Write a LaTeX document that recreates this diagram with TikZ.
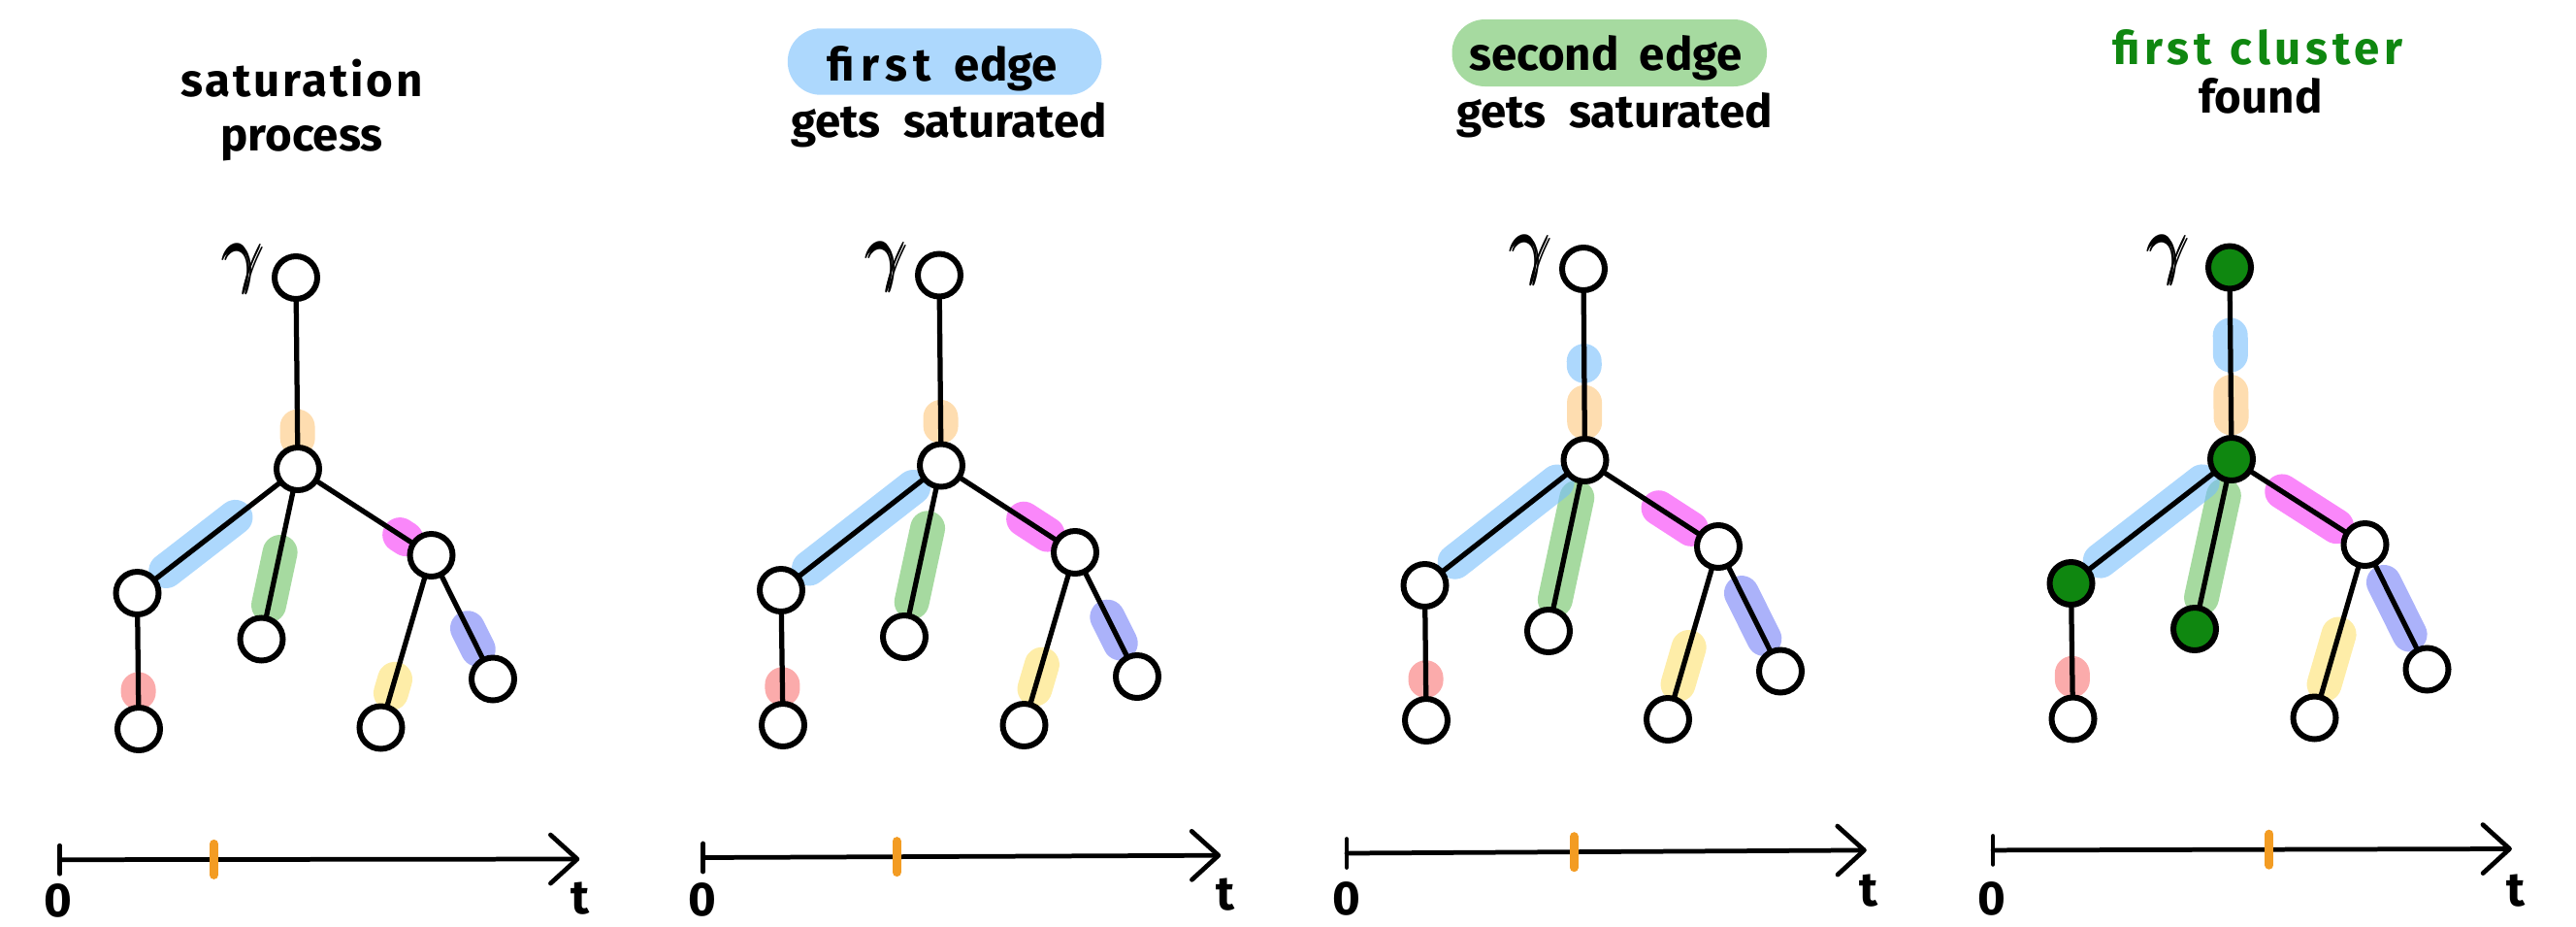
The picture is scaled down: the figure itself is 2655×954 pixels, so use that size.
\documentclass[tikz,border=0pt]{standalone}
\usepackage{amsmath}
\usepackage{graphicx}
\usepackage{fontspec}
\newfontfamily\handfont{Fira Sans}
\usetikzlibrary{calc,arrows.meta}
\pgfdeclarelayer{hllayer}
\pgfdeclarelayer{edgelayer}
\pgfsetlayers{hllayer,edgelayer,main}

\definecolor{hlblue}{RGB}{118,190,252}
\definecolor{hlgreen}{RGB}{107,193,97}
\definecolor{hlpeach}{RGB}{253,198,123}
\definecolor{hlmagenta}{RGB}{247,55,247}
\definecolor{hlperi}{RGB}{115,127,247}
\definecolor{hlyellow}{RGB}{253,225,110}
\definecolor{hlred}{RGB}{248,115,115}
\definecolor{pillblue}{RGB}{173,216,253}
\definecolor{pillgreen}{RGB}{166,218,160}
\definecolor{clustergreen}{RGB}{15,135,16}
\definecolor{tickorange}{RGB}{243,156,35}

\newcommand\hlseg[5]{\draw[#1] ($(#2)!#4!(#3)$) -- ($(#2)!#5!(#3)$);}
\newcommand\gammasym{\scalebox{2.1}{$\pmb{\gamma}$}}
\newcommand\lsp[2]{{\addfontfeatures{LetterSpace=#1}#2}}

\tikzset{
  x=0.02cm, y=-0.02cm,
  vtx/.style={circle, draw=black, line width=0.12cm, fill=white, minimum size=0.88cm, inner sep=0pt, outer sep=0pt},
  cvtx/.style={vtx, fill=clustergreen},
  tedge/.style={line width=0.105cm, draw=black, line cap=round},
  hlbase/.style={line width=0.72cm, line cap=round, draw opacity=0.6},
  hB/.style={hlbase, draw=hlblue},
  hG/.style={hlbase, draw=hlgreen},
  hO/.style={hlbase, draw=hlpeach},
  hM/.style={hlbase, draw=hlmagenta},
  hP/.style={hlbase, draw=hlperi},
  hY/.style={hlbase, draw=hlyellow},
  hR/.style={hlbase, draw=hlred},
  ttl/.style={anchor=base, inner sep=0pt, font=\handfont\bfseries\fontsize{27}{32}\selectfont},
  axlbl/.style={inner sep=0pt, font=\handfont\bfseries\fontsize{28}{34}\selectfont},
  gam/.style={inner sep=0pt, font=\fontsize{20.74}{24}\selectfont},
  axisline/.style={line width=0.095cm, draw=black, line cap=round, line join=round},
  axisarrow/.style={axisline, -{Straight Barb[length=0.55cm, width=1.0cm, line cap=round, line join=round]}},
  otick/.style={line width=0.18cm, draw=tickorange, line cap=round}
}

\begin{document}
\begin{tikzpicture}
\useasboundingbox (0,0) rectangle (2655,954);

% ---------------- titles ----------------
\node[ttl] (t1a) at (311,99.3) {\lsp{6}{saturation}};
\node[ttl] (t1b) at (311,155) {process};

\fill[pillblue, rounded corners=0.68cm] (811.8,29.3) rectangle (1135.4,97.7);
\node[ttl] (t2a) at (971,83.3) {\lsp{14}{first}\hspace{0.5em}edge};
\node[ttl] (t2b) at (978,141.7) {gets\hspace{0.5em}saturated};

\fill[pillgreen, rounded corners=0.68cm] (1496.5,20) rectangle (1821,89);
\node[ttl] (t3a) at (1655,72.7) {second\hspace{0.45em}edge};
\node[ttl] (t3b) at (1664,131.7) {gets\hspace{0.5em}saturated};

\node[ttl, text=clustergreen] (t4a) at (2327,66.7) {\lsp{10}{first}\hspace{0.4em}\lsp{10}{cluster}};
\node[ttl] (t4b) at (2330,116.7) {found};

% ---------------- panel 1 ----------------
\node[gam] (g1) at (252,277) {\gammasym};
\node[vtx] (p1r) at (305,286) {};
\node[vtx] (p1c) at (307,483) {};
\node[vtx] (p1L) at (141.5,611) {};
\node[vtx] (p1LL) at (143,751) {};
\node[vtx] (p1M) at (269.5,658.5) {};
\node[vtx] (p1R) at (444.5,572) {};
\node[vtx] (p1R1) at (392.5,749.5) {};
\node[vtx] (p1R2) at (508,699.5) {};
\begin{pgfonlayer}{edgelayer}
\draw[tedge] (p1r) -- (p1c);
\draw[tedge] (p1c) -- (p1L);
\draw[tedge] (p1L) -- (p1LL);
\draw[tedge] (p1c) -- (p1M);
\draw[tedge] (p1c) -- (p1R);
\draw[tedge] (p1R) -- (p1R1);
\draw[tedge] (p1R) -- (p1R2);
\end{pgfonlayer}
\begin{pgfonlayer}{hllayer}
\hlseg{hO}{p1r}{p1c}{0.78}{0.84}
\hlseg{hB}{p1c}{p1L}{0.39}{0.82}
\hlseg{hG}{p1c}{p1M}{0.49}{0.80}
\hlseg{hM}{p1c}{p1R}{0.765}{0.81}
\hlseg{hP}{p1R}{p1R2}{0.59}{0.76}
\hlseg{hY}{p1R}{p1R1}{0.72}{0.80}
\hlseg{hR}{p1L}{p1LL}{0.71}{0.73}
\end{pgfonlayer}
\coordinate (p1a0) at (61.6,885.7);
\coordinate (p1a1) at (597.3,885);
\coordinate (p1ao) at (220.5,885.4);
\draw[axisarrow] (p1a0) -- (p1a1);
\draw[axisline] ($(p1a0)+(0,-14.5)$) -- ($(p1a0)+(0,14.5)$);
\draw[otick] ($(p1ao)+(0,-16)$) -- ($(p1ao)+(0,16)$);
\node[axlbl] (p1zero) at (60,928) {0};
\node[axlbl] (p1t) at (598,926) {t};

% ---------------- panel 2 ----------------
\node[gam] (g2) at (915,275) {\gammasym};
\node[vtx] (p2r) at (968,283.5) {};
\node[vtx] (p2c) at (970,479.5) {};
\node[vtx] (p2L) at (805,608) {};
\node[vtx] (p2LL) at (807,747) {};
\node[vtx] (p2M) at (932,656) {};
\node[vtx] (p2R) at (1108,569) {};
\node[vtx] (p2R1) at (1055.5,747) {};
\node[vtx] (p2R2) at (1172,697) {};
\begin{pgfonlayer}{edgelayer}
\draw[tedge] (p2r) -- (p2c);
\draw[tedge] (p2c) -- (p2L);
\draw[tedge] (p2L) -- (p2LL);
\draw[tedge] (p2c) -- (p2M);
\draw[tedge] (p2c) -- (p2R);
\draw[tedge] (p2R) -- (p2R1);
\draw[tedge] (p2R) -- (p2R2);
\end{pgfonlayer}
\begin{pgfonlayer}{hllayer}
\hlseg{hO}{p2r}{p2c}{0.747}{0.793}
\hlseg{hB}{p2c}{p2L}{0.175}{0.824}
\hlseg{hG}{p2c}{p2M}{0.367}{0.797}
\hlseg{hM}{p2c}{p2R}{0.617}{0.794}
\hlseg{hP}{p2R}{p2R2}{0.521}{0.73}
\hlseg{hY}{p2R}{p2R1}{0.65}{0.79}
\hlseg{hR}{p2L}{p2LL}{0.70}{0.73}
\end{pgfonlayer}
\coordinate (p2a0) at (724.7,883.5);
\coordinate (p2a1) at (1258.2,881.2);
\coordinate (p2ao) at (924.3,882.6);
\draw[axisarrow] (p2a0) -- (p2a1);
\draw[axisline] ($(p2a0)+(0,-14.5)$) -- ($(p2a0)+(0,14.5)$);
\draw[otick] ($(p2ao)+(0,-16)$) -- ($(p2ao)+(0,16)$);
\node[axlbl] (p2zero) at (724,927) {0};
\node[axlbl] (p2t) at (1263,922) {t};

% ---------------- panel 3 ----------------
\node[gam] (g3) at (1579,268) {\gammasym};
\node[vtx] (p3r) at (1632,277) {};
\node[vtx] (p3c) at (1633.5,474) {};
\node[vtx] (p3L) at (1468.5,603) {};
\node[vtx] (p3LL) at (1470,742) {};
\node[vtx] (p3M) at (1596,650) {};
\node[vtx] (p3R) at (1771,563) {};
\node[vtx] (p3R1) at (1719,741) {};
\node[vtx] (p3R2) at (1835,691.5) {};
\begin{pgfonlayer}{edgelayer}
\draw[tedge] (p3r) -- (p3c);
\draw[tedge] (p3c) -- (p3L);
\draw[tedge] (p3L) -- (p3LL);
\draw[tedge] (p3c) -- (p3M);
\draw[tedge] (p3c) -- (p3R);
\draw[tedge] (p3R) -- (p3R1);
\draw[tedge] (p3R) -- (p3R2);
\end{pgfonlayer}
\begin{pgfonlayer}{hllayer}
\hlseg{hB}{p3r}{p3c}{0.483}{0.506}
\hlseg{hO}{p3r}{p3c}{0.699}{0.801}
\hlseg{hG}{p3c}{p3M}{0.22}{0.817}
\hlseg{hB}{p3c}{p3L}{0.175}{0.811}
\hlseg{hM}{p3c}{p3R}{0.553}{0.796}
\hlseg{hP}{p3R}{p3R2}{0.374}{0.739}
\hlseg{hY}{p3R}{p3R1}{0.584}{0.797}
\hlseg{hR}{p3L}{p3LL}{0.685}{0.705}
\end{pgfonlayer}
\coordinate (p3a0) at (1388,879);
\coordinate (p3a1) at (1923.8,875.9);
\coordinate (p3ao) at (1622.4,877.7);
\draw[axisarrow] (p3a0) -- (p3a1);
\draw[axisline] ($(p3a0)+(0,-14.5)$) -- ($(p3a0)+(0,14.5)$);
\draw[otick] ($(p3ao)+(0,-16)$) -- ($(p3ao)+(0,16)$);
\node[axlbl] (p3zero) at (1388,926) {0};
\node[axlbl] (p3t) at (1926,918) {t};

% ---------------- panel 4 ----------------
\node[gam] (g4) at (2236,268) {\gammasym};
\node[cvtx] (p4r) at (2298,275.5) {};
\node[cvtx] (p4c) at (2300,473) {};
\node[cvtx] (p4L) at (2134.5,601) {};
\node[vtx] (p4LL) at (2136.5,740.5) {};
\node[cvtx] (p4M) at (2262,648) {};
\node[vtx] (p4R) at (2437.5,561) {};
\node[vtx] (p4R1) at (2385.5,739.5) {};
\node[vtx] (p4R2) at (2501.5,689.5) {};
\begin{pgfonlayer}{edgelayer}
\draw[tedge] (p4r) -- (p4c);
\draw[tedge] (p4c) -- (p4L);
\draw[tedge] (p4L) -- (p4LL);
\draw[tedge] (p4c) -- (p4M);
\draw[tedge] (p4c) -- (p4R);
\draw[tedge] (p4R) -- (p4R1);
\draw[tedge] (p4R) -- (p4R2);
\end{pgfonlayer}
\begin{pgfonlayer}{hllayer}
\hlseg{hB}{p4r}{p4c}{0.354}{0.456}
\hlseg{hO}{p4r}{p4c}{0.651}{0.784}
\hlseg{hG}{p4c}{p4M}{0.215}{0.815}
\hlseg{hB}{p4c}{p4L}{0.183}{0.817}
\hlseg{hM}{p4c}{p4R}{0.38}{0.786}
\hlseg{hP}{p4R}{p4R2}{0.303}{0.72}
\hlseg{hY}{p4R}{p4R1}{0.518}{0.806}
\hlseg{hR}{p4L}{p4LL}{0.665}{0.713}
\end{pgfonlayer}
\coordinate (p4a0) at (2054.1,875.9);
\coordinate (p4a1) at (2588.9,874.5);
\coordinate (p4ao) at (2338.9,875.2);
\draw[axisarrow] (p4a0) -- (p4a1);
\draw[axisline] ($(p4a0)+(0,-14.5)$) -- ($(p4a0)+(0,14.5)$);
\draw[otick] ($(p4ao)+(0,-16)$) -- ($(p4ao)+(0,16)$);
\node[axlbl] (p4zero) at (2053,926) {0};
\node[axlbl] (p4t) at (2593,918) {t};
\end{tikzpicture}
\end{document}
